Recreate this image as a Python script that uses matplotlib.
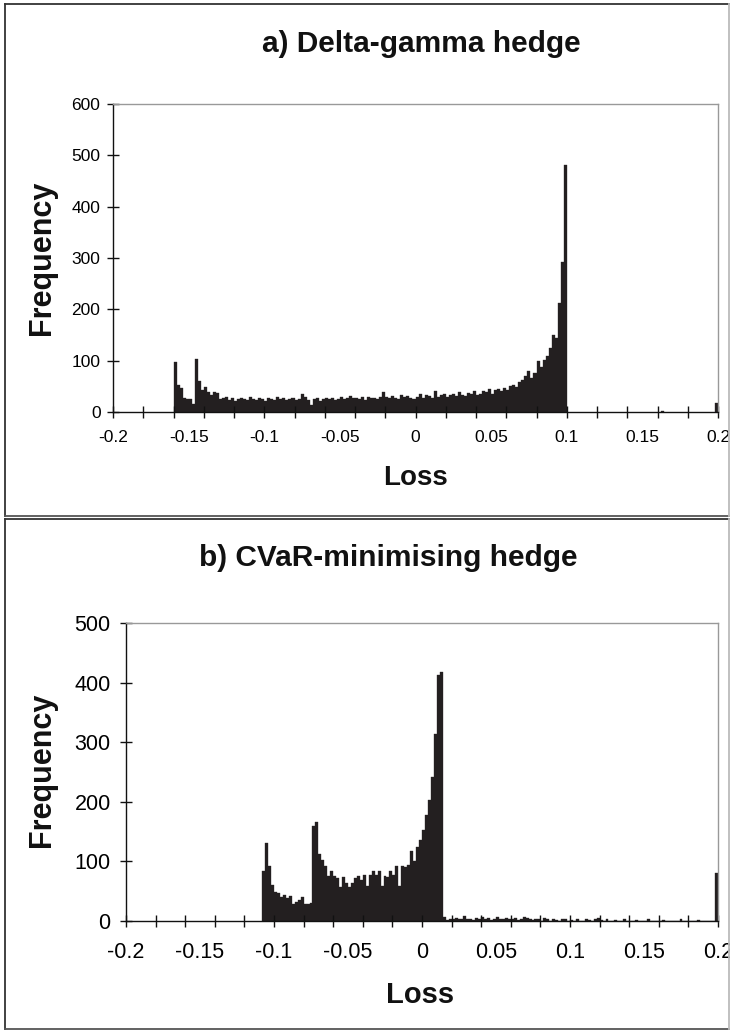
import numpy as np
import matplotlib
matplotlib.use("Agg")
import matplotlib.pyplot as plt
from matplotlib.lines import Line2D
from matplotlib.ticker import MultipleLocator, FixedLocator

plt.rcParams['font.family'] = ['Liberation Sans', 'DejaVu Sans']

# ---------------- data ----------------
BIN = 0.002
x_label_ticks = [-0.2, -0.15, -0.1, -0.05, 0, 0.05, 0.1, 0.15, 0.2]
x_label_text = ["-0.2", "-0.15", "-0.1", "-0.05", "0", "0.05", "0.1", "0.15", "0.2"]

# Panel a: delta-gamma hedge, bins of width 0.002 starting at -0.160
a_start = -0.160
a_freq = [98, 52, 46, 28, 26, 25, 15, 103, 60, 42, 48, 38, 34, 38, 37, 25, 28, 30,
          24, 28, 22, 26, 27, 25, 23, 29, 26, 24, 28, 25,
          22, 27, 26, 24, 29, 25, 27, 23, 26, 28, 24, 26,
          36, 30, 24, 14, 25, 27, 22, 26, 28, 25, 27, 24,
          26, 29, 25, 27, 31, 28, 27, 26, 29, 24, 30, 28,
          27, 25, 29, 38, 30, 28, 31, 27, 26, 33, 29, 31,
          28, 25, 30, 36, 27, 33, 32, 28, 40, 30, 33, 35,
          30, 34, 36, 32, 38, 33, 31, 37, 35, 41, 34, 36,
          40, 38, 44, 36, 42, 45, 40, 47, 43, 50, 52, 48,
          58, 62, 70, 80, 66, 76, 100, 88, 102, 110, 125, 150, 145, 212, 293, 481]
a_tail_left = [0.162, 0.198]
a_tail_freq = [2, 17]

# Panel b: CVaR-minimising hedge, bins of width 0.002 starting at -0.108
b_start = -0.108
b_freq = [84, 131, 92, 60, 48, 47, 40, 44, 38, 42, 29, 32, 36, 41, 29, 28, 30,
          160, 166, 112, 103, 93, 75, 84, 75, 72, 57, 74, 64, 57, 63, 72, 75,
          68, 78, 58, 77, 84, 78, 84, 58, 75, 73, 84, 78, 93, 58, 92, 90, 94, 118,
          100, 124, 136, 153, 178, 203, 241, 313, 412, 418]
b_tail_start = 0.014
b_tail_freq = [6, 2, 4, 3, 5, 4, 3, 8, 4, 3, 2, 5, 4, 6, 3, 5, 2, 4, 6, 4, 3, 5, 4, 3,
               5, 2, 4, 7, 5, 3, 2, 4, 3, 0, 5, 4, 0, 3, 2, 0, 4, 3, 0, 2, 0, 3, 0, 0,
               4, 2, 0, 3, 5, 2, 0, 3, 0, 0, 2, 0, 0, 3, 0, 0, 0, 2, 0, 0, 0, 3, 0, 0,
               0, 0, 2, 0, 0, 0, 0, 0, 3, 0, 0, 0, 0, 0, 2, 0, 0, 0, 0, 0]
b_over_left = 0.198
b_over_freq = 80

# ---------------- figure ----------------
W, H = 730, 1030
fig = plt.figure(figsize=(W / 100, H / 100), dpi=100)
fig.patch.set_facecolor("white")


def fx(px):
    return px / W


def fy(py):
    return 1 - py / H


def add_line(x0, y0, x1, y1, color, lw):
    fig.add_artist(Line2D([fx(x0), fx(x1)], [fy(y0), fy(y1)], color=color, lw=lw,
                          transform=fig.transFigure))


# panel borders
for top, bot in [(4, 516), (519, 1029)]:
    add_line(5, top, 729, top, "#333333", 1.3)
    add_line(5, top, 5, bot, "#333333", 1.3)
    add_line(5, bot, 729, bot, "#555555", 1.3)
    add_line(729, top, 729, bot, "#bbbbbb", 1.3)

BAR_COLOR = "#231f20"


def bars(ax, left, vals):
    ax.bar(left, vals, width=BIN, align="edge", color=BAR_COLOR,
           edgecolor=BAR_COLOR, linewidth=0.25)


def setup_axes(ax, ymax, ystep, tick_fs, xpad, ypad):
    ax.set_xlim(-0.2, 0.2)
    ax.set_ylim(0, ymax)
    for s in ["top", "right"]:
        ax.spines[s].set_color("#999999")
        ax.spines[s].set_linewidth(1.0)
    for s in ["left", "bottom"]:
        ax.spines[s].set_color("#111111")
        ax.spines[s].set_linewidth(1.0)
    ax.yaxis.set_major_locator(MultipleLocator(ystep))
    ax.tick_params(axis="y", direction="inout", length=8, width=1.0,
                   labelsize=tick_fs, pad=ypad, color="#111111")
    ax.xaxis.set_major_locator(FixedLocator(x_label_ticks))
    ax.set_xticklabels(x_label_text)
    ax.xaxis.set_minor_locator(FixedLocator(np.round(np.arange(-0.2, 0.2001, 0.02), 3)))
    ax.xaxis.remove_overlapping_locs = False
    ax.tick_params(axis="x", which="major", length=0, labelsize=tick_fs, pad=xpad)
    ax.tick_params(axis="x", which="minor", direction="inout", length=8, width=1.0,
                   color="#111111")


# ---- panel a ----
axa = fig.add_axes([fx(113), fy(412), fx(718) - fx(113), fy(104) - fy(412)])
bars(axa, a_start + BIN * np.arange(len(a_freq)), a_freq)
bars(axa, a_tail_left, a_tail_freq)
setup_axes(axa, 600, 100, 12.5, 13, 5)

# ---- panel b ----
axb = fig.add_axes([fx(126), fy(921), fx(718) - fx(126), fy(623) - fy(921)])
bars(axb, b_start + BIN * np.arange(len(b_freq)), b_freq)
bars(axb, b_tail_start + BIN * np.arange(len(b_tail_freq)), b_tail_freq)
bars(axb, [b_over_left], [b_over_freq])
setup_axes(axb, 500, 100, 15.5, 15, 7)

# ---- titles & axis labels ----
fig.text(fx(421), fy(44), "a) Delta-gamma hedge", ha="center", va="center",
         fontsize=21.5, fontweight="bold", color="#111111")
fig.text(fx(388), fy(558), "b) CVaR-minimising hedge", ha="center", va="center",
         fontsize=21.5, fontweight="bold", color="#111111")
fig.text(fx(415), fy(478), "Loss", ha="center", va="center",
         fontsize=20, fontweight="bold", color="#111111")
fig.text(fx(420), fy(995), "Loss", ha="center", va="center",
         fontsize=21, fontweight="bold", color="#111111")
fig.text(fx(42), fy(258), "Frequency", ha="center", va="center", rotation=90,
         fontsize=22, fontweight="bold", color="#111111")
fig.text(fx(42), fy(770), "Frequency", ha="center", va="center", rotation=90,
         fontsize=22, fontweight="bold", color="#111111")

fig.savefig("out.png", dpi=100, facecolor="white")
